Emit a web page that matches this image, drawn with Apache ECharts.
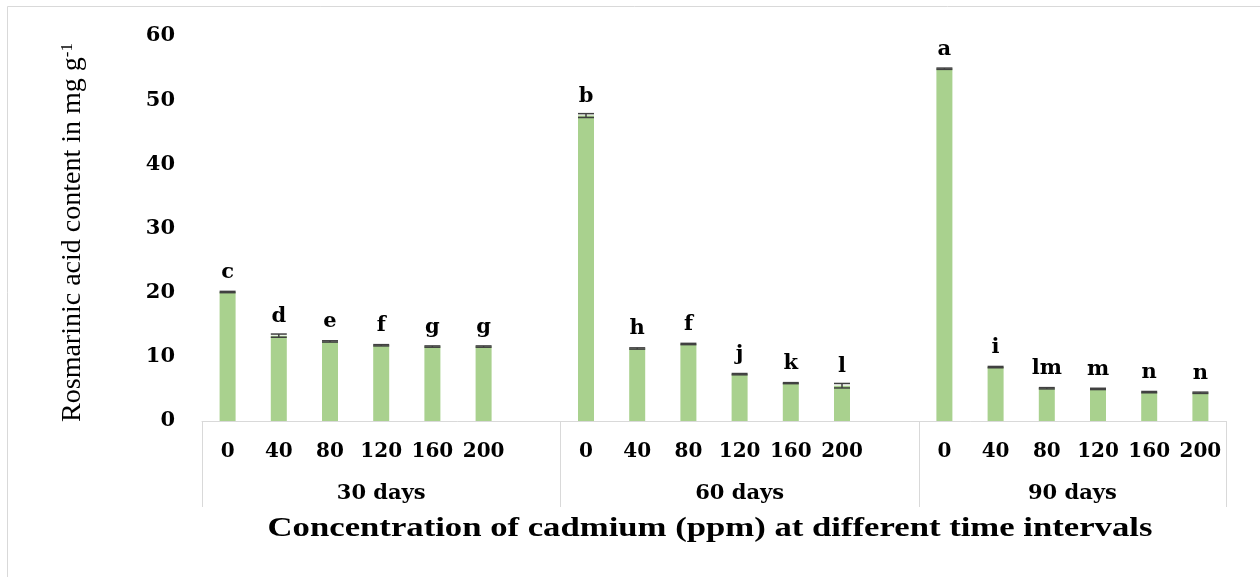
<!DOCTYPE html>
<html>
<head>
<meta charset="utf-8">
<script src="https://cdn.jsdelivr.net/npm/echarts@6/dist/echarts.min.js"></script>
<style>
  html, body { margin: 0; padding: 0; background: #ffffff; }
  #chart { width: 1260px; height: 577px; }
</style>
</head>
<body>
<div id="chart"></div>
<script>
// Cadmium concentrations (ppm) and sampling periods
const concentrations = ['0', '40', '80', '120', '160', '200'];
const periods = ['30 days', '60 days', '90 days'];

// Rosmarinic acid content (mg g-1) per period, one value per concentration
const values30 = [20.1, 13.3, 12.4, 11.8, 11.6, 11.6];
const values60 = [47.6, 11.3, 12.0, 7.3, 5.9, 5.5];
const values90 = [54.9, 8.4, 5.1, 5.0, 4.5, 4.4];

// Standard deviations
const errors30 = [0.1, 0.25, 0.1, 0.1, 0.1, 0.1];
const errors60 = [0.3, 0.1, 0.1, 0.1, 0.08, 0.35];
const errors90 = [0.1, 0.1, 0.1, 0.1, 0.1, 0.1];

// Significance letters (DMRT)
const letters30 = ['c', 'd', 'e', 'f', 'g', 'g'];
const letters60 = ['b', 'h', 'f', 'j', 'k', 'l'];
const letters90 = ['a', 'i', 'lm', 'm', 'n', 'n'];

// Y axis ticks
const yMin = 0, yMax = 60, yStep = 10;

// Flatten the groups into one category axis, with an empty slot after each group but the last
const groupValues = [values30, values60, values90];
const groupErrors = [errors30, errors60, errors90];
const groupLetters = [letters30, letters60, letters90];

const categories = [];
const barData = [];
const errData = [];
const letterData = [];
const groupStart = [];
groupValues.forEach((vals, g) => {
  groupStart.push(categories.length);
  vals.forEach((v, i) => {
    categories.push(concentrations[i]);
    barData.push(v);
    errData.push([categories.length - 1, v, groupErrors[g][i]]);
    letterData.push(groupLetters[g][i]);
  });
  if (g < groupValues.length - 1) {
    categories.push('');
    barData.push(null);
    letterData.push('');
  }
});
const slotCount = categories.length;
// group boundaries and label centres in slot units
const boundaries = groupStart.concat([slotCount]);
const groupCentres = groupStart.map((s, g) => (s + boundaries[g + 1]) / 2);

const serif = '"Liberation Serif", "Times New Roman", serif';
const wideSerif = '"DejaVu Serif", "Liberation Serif", serif';
const boxColor = '#d9d9d9';

const chart = echarts.init(document.getElementById('chart'), null, { renderer: 'canvas' });

chart.setOption({
  backgroundColor: '#ffffff',
  animation: false,
  grid: { left: 202, right: 34, top: 36, bottom: 156, containLabel: false },
  xAxis: [
    {
      type: 'category',
      data: categories,
      position: 'bottom',
      axisLine: { show: true, onZero: false, lineStyle: { color: boxColor, width: 1 } },
      axisTick: { show: false },
      axisLabel: {
        interval: 0,
        margin: 21,
        fontFamily: wideSerif,
        fontWeight: 'bold',
        fontSize: 20,
        color: '#000'
      },
      splitLine: { show: false }
    },
    {
      type: 'value',
      min: 0,
      max: slotCount,
      position: 'bottom',
      axisLine: { show: false, onZero: false },
      axisTick: {
        show: true,
        customValues: boundaries,
        length: 86,
        lineStyle: { color: boxColor, width: 1 }
      },
      axisLabel: {
        customValues: groupCentres,
        margin: 62,
        fontFamily: wideSerif,
        fontWeight: 'bold',
        fontSize: 21,
        color: '#000',
        formatter: (v) => {
          const idx = groupCentres.findIndex(c => Math.abs(c - v) < 1e-6);
          return idx >= 0 ? periods[idx] : '';
        }
      },
      splitLine: { show: false }
    }
  ],
  yAxis: {
    type: 'value',
    min: yMin,
    max: yMax,
    interval: yStep,
    axisLine: { show: false },
    axisTick: { show: false },
    splitLine: { show: false },
    axisLabel: {
      margin: 27,
      padding: [3, 0, 0, 0],
      fontFamily: wideSerif,
      fontWeight: 'bold',
      fontSize: 21,
      color: '#000'
    },
    name: '{main|Rosmarinic acid content in mg g}{sup|-1}',
    nameLocation: 'middle',
    nameRotate: 90,
    nameGap: 115,
    nameTextStyle: {
      padding: [0, 8, 0, 0],
      rich: {
        main: { fontFamily: serif, fontSize: 28, color: '#000' },
        sup: { fontFamily: serif, fontSize: 17, color: '#000', verticalAlign: 'top' }
      }
    }
  },
  series: [
    {
      type: 'bar',
      xAxisIndex: 0,
      data: barData,
      barWidth: 16,
      itemStyle: { color: '#a9d18e' },
      label: {
        show: true,
        position: 'top',
        distance: 9,
        fontFamily: wideSerif,
        fontWeight: 'bold',
        fontSize: 21,
        color: '#000',
        formatter: (p) => letterData[p.dataIndex]
      }
    },
    {
      type: 'custom',
      xAxisIndex: 0,
      data: errData,
      z: 5,
      renderItem: (params, api) => {
        const x = api.value(0);
        const v = api.value(1);
        const e = api.value(2);
        const hi = api.coord([x, v + e]);
        const lo = api.coord([x, v - e]);
        const half = 8;
        const style = { stroke: '#404040', lineWidth: 1.5 };
        return {
          type: 'group',
          children: [
            { type: 'line', shape: { x1: hi[0], y1: hi[1], x2: lo[0], y2: lo[1] }, style },
            { type: 'line', shape: { x1: hi[0] - half, y1: hi[1], x2: hi[0] + half, y2: hi[1] }, style },
            { type: 'line', shape: { x1: lo[0] - half, y1: lo[1], x2: lo[0] + half, y2: lo[1] }, style }
          ]
        };
      }
    }
  ],
  graphic: [
    {
      type: 'rect',
      silent: true,
      shape: { x: 7.5, y: 6.5, width: 1300, height: 700 },
      style: { fill: 'none', stroke: '#d9d9d9', lineWidth: 1 }
    },
    {
      type: 'text',
      x: 710,
      y: 529,
      scaleX: 1.285,
      style: {
        text: 'Concentration of cadmium (ppm) at different time intervals',
        fontFamily: serif,
        fontWeight: 'bold',
        fontSize: 27,
        fill: '#000',
        textAlign: 'center',
        textVerticalAlign: 'middle'
      }
    }
  ]
});
</script>
</body>
</html>
